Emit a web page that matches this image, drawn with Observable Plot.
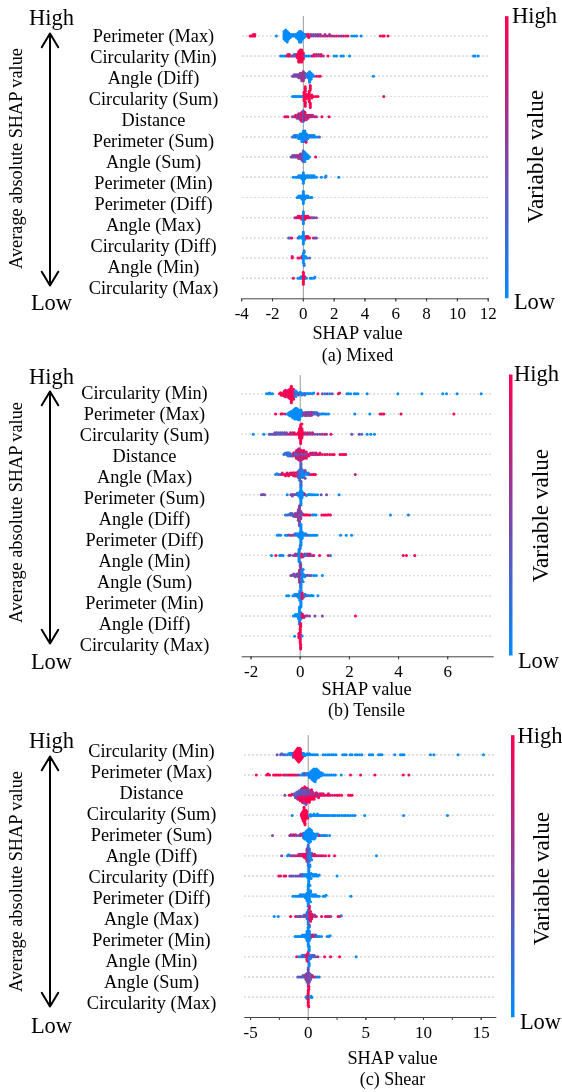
<!DOCTYPE html>
<html>
<head>
<meta charset="utf-8">
<script src="https://cdn.jsdelivr.net/npm/d3@7"></script>
<script src="https://cdn.jsdelivr.net/npm/@observablehq/plot@0.6"></script>
<style>
html,body{margin:0;padding:0;background:#fff}
#root{position:relative;width:562px;height:1092px;overflow:hidden}
.panel{position:absolute;left:0;width:562px}
.panel svg{position:absolute;left:0;top:0}
.soft{filter:blur(0.35px)}
</style>
</head>
<body>
<div id="root"></div>
<script>
// Row names, top to bottom
const mixedNames = ["Perimeter (Max)","Circularity (Min)","Angle (Diff)","Circularity (Sum)","Distance","Perimeter (Sum)","Angle (Sum)","Perimeter (Min)","Perimeter (Diff)","Angle (Max)","Circularity (Diff)","Angle (Min)","Circularity (Max)"];
const tensileNames = ["Circularity (Min)","Perimeter (Max)","Circularity (Sum)","Distance","Angle (Max)","Perimeter (Sum)","Angle (Diff)","Perimeter (Diff)","Angle (Min)","Angle (Sum)","Perimeter (Min)","Angle (Diff)","Circularity (Max)"];
const shearNames = ["Circularity (Min)","Perimeter (Max)","Distance","Circularity (Sum)","Perimeter (Sum)","Angle (Diff)","Circularity (Diff)","Perimeter (Diff)","Angle (Max)","Perimeter (Min)","Angle (Min)","Angle (Sum)","Circularity (Max)"];

// Each row: [SHAP value, how many samples sit there, variable value 0..1]
const mixedValues = [
[[-3.45,1,1],[-3.35,1,1],[-3.25,2,1],[-3.15,2,1],[-1.75,1,0],[-1.25,6,0],[-1.15,8,0],[-1.05,8,0],[-0.95,5,0],[-0.85,3,0],[-0.75,2,0],[-0.65,2,0],[-0.55,2,0],[-0.45,3,0],[-0.35,5,0],[-0.25,8,0],[-0.15,8,0],[-0.05,5,0],[0.05,3,0],[0.15,2,0],[0.25,2,.7],[0.35,3,1],[0.5,2,.6],[0.65,2,.5],[0.8,2,.4],[0.95,2,.7],[1.1,2,.5],[1.25,1,.9],[1.4,2,.6],[1.55,1,.8],[1.7,2,.6],[1.85,1,.8],[2,1,.6],[2.15,1,.9],[2.3,1,.7],[2.45,1,.5],[2.6,1,.9],[2.75,1,.8],[2.9,1,1],[3.15,1,0],[3.3,1,0],[3.45,1,0],[3.75,1,0],[5,1,.9],[5.15,1,1],[5.25,1,1],[5.5,1,1]],
[[-1.47,1,0],[-1.35,1,0],[-1.2,1,0],[-1.1,1,.3],[-1,2,.9],[-.9,2,1],[-.8,1,.5],[-.7,1,.6],[-.6,2,.4],[-.5,2,.3],[-.4,3,1],[-.3,8,1],[-.2,9,1],[-.1,9,1],[0,5,1],[.1,1,0],[.2,1,0],[.35,1,0],[.5,1,0],[.6,1,1],[.7,2,.9],[.85,2,.8],[1,2,.6],[1.15,2,.9],[1.3,1,.6],[1.6,1,1],[2,1,0],[2.15,1,0],[2.45,1,0],[2.6,1,0],[3,1,0],[11.05,1,0],[11.15,1,0],[11.35,1,0]],
[[-.7,1,.5],[-.6,2,.4],[-.5,2,.5],[-.4,2,.45],[-.3,3,.5],[-.2,4,.6],[-.1,6,.5],[0,7,.7],[.1,4,.5],[.2,2,.3],[.3,4,0],[.4,8,0],[.5,5,0],[.6,2,0],[.7,1,0],[.85,1,.9],[1,1,.9],[1.1,1,1],[4.55,1,0]],
[[-.7,1,0],[-.6,1,0],[-.5,1,0],[-.4,1,0],[-.3,1,0],[-.2,1,0],[-.1,1,0],[0,1,0],[.05,6,1],[.12,9,1],[.2,4,1],[.3,2,1],[.38,7,1],[.45,9,1],[.55,3,1],[.65,1,1],[.8,1,1],[.95,1,1],[5.22,1,.85]],
[[-1.2,1,1],[-1.1,1,.9],[-1,1,.8],[-.7,1,.7],[-.6,1,.5],[-.5,2,1],[-.4,3,.4],[-.3,4,1],[-.2,5,.4],[-.1,7,1],[0,8,.3],[.1,6,.95],[.2,4,.4],[.3,3,1],[.4,2,.6],[.5,2,.9],[.6,2,.6],[.75,1,.9],[.85,1,.7],[1.2,1,1],[1.67,1,1]],
[[-.7,1,.3],[-.6,2,0],[-.5,2,.3],[-.4,2,0],[-.3,3,0],[-.2,4,0],[-.1,6,0],[0,8,0],[.1,8,0],[.2,5,.1],[.3,3,0],[.4,2,0],[.5,2,0],[.6,2,.2],[.7,2,0],[.8,1,0],[.95,1,0],[1.05,1,.3],[.18,1,1]],
[[-.8,1,.4],[-.7,2,.4],[-.6,2,.6],[-.5,2,.4],[-.4,2,.8],[-.3,3,.5],[-.2,4,.6],[-.1,5,.5],[0,8,.3],[.1,7,0],[.2,4,0],[.3,3,0],[.4,1,0],[.8,1,1]],
[[-.65,1,0],[-.5,1,0],[-.4,1,0],[-.3,2,0],[-.2,2,0],[-.1,3,0],[0,8,0],[.1,3,0],[.2,2,0],[.3,2,0],[.4,2,0],[.5,2,0],[.6,2,0],[.7,2,0],[.85,1,0],[1.17,1,0],[1.42,1,.1],[1.47,1,0],[2.3,1,0]],
[[-.4,1,0],[-.3,2,0],[-.2,2,0],[-.1,3,0],[0,9,0],[.1,3,0],[.2,2,0],[.3,2,0],[.45,1,0],[.55,1,0]],
[[-.55,1,.6],[-.45,1,.9],[-.35,2,.8],[-.25,2,1],[-.1,3,.9],[0,9,0],[.1,3,1],[.2,2,.9],[.3,2,.9],[.4,1,.9],[.5,1,.7],[.6,1,.5],[.7,1,.5],[.85,1,.5]],
[[-.95,1,.3],[-.85,1,.3],[-.75,1,1],[-.35,1,.3],[-.25,2,0],[-.1,2,0],[0,9,0],[.1,3,0],[.2,2,1],[.3,2,1],[.4,1,1],[.65,1,.9],[.75,1,.3],[.85,1,.5]],
[[-.72,2,1],[-.35,1,1],[-.25,1,.8],[-.1,2,.9],[0,7,0],[.05,4,.1],[.15,2,0],[.25,1,0],[.4,1,.3]],
[[-.65,1,1],[-.35,1,0],[-.25,1,0],[-.15,2,0],[0,9,1],[.1,2,1],[.2,1,0],[.45,1,0],[.55,1,0],[.7,1,0],[.75,1,0]]
];
const tensileValues = [
[[-1.37,1,0],[-1.3,1,0],[-1.25,1,0],[-1.2,1,0],[-1.13,1,0],[-.84,1,1],[-.8,1,1],[-.76,2,1],[-.7,2,1],[-.65,3,.9],[-.6,3,1],[-.55,3,1],[-.5,4,.8],[-.45,5,1],[-.4,6,1],[-.36,6,1],[-.32,5,1],[-.27,4,1],[-.22,3,.4],[-.18,2,0],[-.13,2,0],[-.07,2,.5],[0,2,0],[.06,2,0],[.12,1,0],[.18,2,.3],[.24,1,0],[.3,1,0],[.36,1,0],[.42,1,0],[.5,1,0],[.55,1,0],[.72,1,1],[.9,1,.5],[1,1,0],[1.1,1,.5],[1.2,1,0],[1.3,1,.4],[1.55,1,1],[1.6,1,.9],[1.9,1,0],[1.97,1,0],[2.05,1,0],[2.2,1,0],[2.27,1,0],[2.35,1,0],[2.72,1,0],[3.97,1,0],[4.95,1,0],[5.8,1,0],[5.95,1,0],[6.38,1,0],[7.36,1,0]],
[[-1,1,1],[-.78,1,1],[-.72,1,1],[-.62,1,.7],[-.52,1,0],[-.47,2,0],[-.42,3,0],[-.37,3,0],[-.32,4,0],[-.27,5,0],[-.22,6,0],[-.17,6,0],[-.12,6,0],[-.07,6,0],[-.02,5,0],[.03,4,0],[.08,3,0],[.13,2,.5],[.2,3,.5],[.27,3,.7],[.33,3,.4],[.4,3,.5],[.46,3,.7],[.53,2,.4],[.6,2,.3],[.67,2,.1],[.73,2,.5],[.8,1,0],[.87,1,0],[.93,1,0],[1,1,0],[1.07,1,0],[1.15,1,0],[2.22,1,0],[2.83,1,0],[3.25,1,.9],[3.32,1,1],[3.4,1,.9],[4.1,1,1],[6.25,1,1]],
[[-1.91,1,0],[-1.48,1,0],[-1.26,1,.4],[-1.18,1,.3],[-1.1,1,.5],[-1.03,2,.4],[-.96,2,.4],[-.88,2,.3],[-.8,2,.5],[-.72,2,.3],[-.64,2,.4],[-.56,2,.5],[-.48,1,.7],[-.4,2,.8],[-.32,2,.6],[-.24,2,.9],[-.16,1,1],[-.08,2,1],[-.03,6,1],[.02,9,1],[.07,7,1],[.12,2,1],[.2,2,.6],[.3,2,.9],[.4,2,.5],[.5,2,.8],[.6,1,.3],[.7,1,.6],[.8,1,.3],[.9,1,.8],[1,1,.7],[1.07,1,.6],[1.25,1,1],[2.1,1,.45],[2.4,1,.4],[2.5,1,.3],[2.72,1,0],[2.87,1,0],[3.02,1,0]],
[[-.66,1,.1],[-.62,1,.2],[-.56,2,.1],[-.5,3,.3],[-.44,3,.1],[-.38,2,.4],[-.32,2,.2],[-.26,3,.9],[-.2,3,.3],[-.15,4,1],[-.1,5,.4],[-.05,6,1],[0,6,.5],[.05,5,1],[.1,4,.4],[.15,4,1],[.2,3,.5],[.25,3,1],[.3,2,.6],[.36,2,1],[.42,2,.7],[.5,2,.9],[.57,2,.6],[.65,2,.9],[.72,1,.8],[.8,2,.9],[.9,1,.9],[1,1,1],[1.1,1,.8],[1.2,1,1],[1.3,1,1],[1.38,1,1],[1.62,1,1],[1.7,1,1],[1.78,1,1],[1.85,1,1]],
[[-1,1,0],[-.95,1,0],[-.88,1,.2],[-.8,1,.5],[-.73,2,.7],[-.66,1,1],[-.6,2,1],[-.53,2,.9],[-.47,2,1],[-.4,2,.8],[-.33,2,1],[-.27,3,.9],[-.2,3,1],[-.14,3,.7],[-.08,5,.5],[-.02,8,.2],[.03,9,.3],[.09,6,.1],[.15,4,0],[.2,3,.5],[.26,2,0],[.33,2,0],[.4,1,.8],[.48,1,1],[.55,1,1],[.62,1,1],[2.24,1,.7]],
[[-1.58,1,.45],[-1.52,1,.4],[-1.45,1,.5],[-.53,1,0],[-.38,1,.5],[-.32,2,.45],[-.26,1,.5],[-.2,1,.4],[-.12,2,.3],[-.06,3,0],[0,5,0],[.03,9,0],[.07,5,0],[.14,2,0],[.2,1,1],[.25,1,0],[.32,1,0],[.38,1,0],[.45,1,0],[.52,1,0],[.6,1,0],[.7,1,0],[.85,1,.4],[1.07,1,.5],[1.58,1,0]],
[[-.6,1,.2],[-.53,1,.1],[-.47,1,.3],[-.4,2,.2],[-.33,2,.3],[-.27,2,.4],[-.2,3,.5],[-.13,3,.6],[-.08,6,.5],[-.03,10,.5],[.02,4,.6],[.08,2,.3],[.14,1,1],[.2,1,1],[.26,1,1],[.33,1,.9],[.4,1,1],[.5,1,0],[.56,1,0],[.64,1,0],[.88,1,1],[.96,1,1],[1.03,1,1],[1.1,1,.9],[1.16,1,1],[1.23,1,1],[3.67,1,0],[4.4,1,0]],
[[-.93,1,0],[-.87,1,0],[-.8,1,0],[-.6,1,0],[-.53,1,0],[-.47,1,.5],[-.4,1,.6],[-.33,1,.5],[-.27,1,.6],[-.2,2,.3],[-.13,2,0],[-.06,3,0],[0,5,0],[.03,10,0],[.08,5,0],[.15,2,0],[.22,2,0],[.3,1,.4],[.37,1,0],[.44,1,0],[.52,1,0],[.6,1,0],[.67,1,0],[1.64,1,0],[1.87,1,0],[2.09,1,0]],
[[-1.17,1,0],[-.99,1,1],[-.83,1,0],[-.77,1,.1],[-.7,1,0],[-.46,1,.5],[-.4,1,.5],[-.28,1,.5],[-.2,2,.6],[-.12,2,.6],[-.05,9,0],[0,6,.1],[.06,3,1],[.12,2,.7],[.18,2,.3],[.25,2,.2],[.32,2,.7],[.4,2,.9],[.48,1,.3],[.55,1,.8],[.79,1,1],[1.14,1,1],[1.23,1,.2],[4.19,1,1],[4.32,1,1],[4.66,1,1]],
[[-.38,1,.5],[-.32,1,.4],[-.26,2,.5],[-.2,2,.4],[-.14,2,.5],[-.08,3,.4],[-.03,7,.6],[.02,10,.6],[.07,7,.1],[.12,4,0],[.18,2,0],[.24,1,.2],[.3,1,.5],[.38,1,.5],[.45,1,.2],[.55,1,0],[.65,1,0],[.9,1,0]],
[[-.55,1,0],[-.47,1,0],[-.3,1,0],[-.22,2,0],[-.15,2,.1],[-.08,3,0],[-.02,7,0],[.03,10,0],[.08,5,.9],[.14,2,.7],[.2,2,0],[.27,1,.5],[.33,1,0],[.4,1,0],[.46,1,0],[.52,1,0],[.72,1,0]],
[[-.28,1,0],[-.2,2,0],[-.13,2,0],[-.07,4,0],[-.03,9,0],[.03,5,0],[.09,3,1],[.15,2,.9],[.22,1,.7],[.28,1,.5],[.38,1,.6],[.6,1,.5],[.9,1,.45],[2.25,1,1]],
[[-.23,1,0],[-.05,4,1],[0,8,1],[.02,9,1],[.08,1,0]]
];
const shearValues = [
[[-2.7,1,.5],[-2.4,1,.4],[-2.3,1,.2],[-2.15,1,.3],[-2,1,.3],[-1.8,1,0],[-1.7,1,0],[-1.55,2,0],[-1.4,2,0],[-1.3,2,.5],[-1.22,2,1],[-1.14,3,1],[-1.06,4,1],[-.98,5,1],[-.9,6,1],[-.82,6,1],[-.74,6,1],[-.66,5,1],[-.58,3,1],[-.5,2,1],[-.4,2,0],[-.3,1,0],[-.2,1,0],[-.1,1,0],[0,1,0],[.1,1,0],[.2,1,0],[.35,1,0],[.5,1,0],[.65,1,0],[.8,1,0],[1.3,1,0],[1.5,1,0],[1.7,1,0],[1.85,1,0],[2.05,1,0],[2.2,1,0],[2.4,1,0],[3,1,0],[3.15,1,0],[3.3,1,0],[3.65,1,0],[3.8,1,0],[4.1,1,0],[4.25,1,0],[4.45,1,0],[4.65,1,0],[5.3,1,0],[5.45,1,0],[5.6,1,0],[6.1,1,0],[6.25,1,0],[6.4,1,0],[7.5,1,0],[8,1,0],[8.15,1,0],[8.3,1,0],[10.6,1,0],[10.9,1,0],[13,1,0],[15.2,1,0]],
[[-4.5,1,1],[-3.6,1,1],[-3.5,1,1],[-3.35,1,1],[-3,1,1],[-2.85,1,1],[-2.7,1,1],[-2.55,1,1],[-2.4,1,1],[-2.15,1,1],[-2,1,.8],[-1.85,1,.6],[-1.7,1,1],[-1.55,1,1],[-1.4,1,.9],[-1.25,1,1],[-1.1,1,.7],[-.95,1,.8],[-.8,1,.5],[-.6,1,0],[-.45,2,0],[-.3,2,.6],[-.15,2,0],[0,2,0],[.1,2,.1],[.2,3,0],[.3,4,0],[.4,5,0],[.5,6,0],[.6,6,0],[.7,5,0],[.8,4,0],[.9,3,0],[1,2,0],[1.1,2,0],[1.25,2,0],[1.4,1,0],[1.55,1,0],[1.7,1,0],[1.85,1,0],[2,1,0],[2.2,1,0],[2.35,1,0],[2.86,1,0],[3.67,1,1],[4.54,1,1],[5.78,1,1],[8.24,1,1],[8.73,1,1]],
[[-2.02,1,.5],[-1.65,1,1],[-1.5,1,.9],[-1.4,1,1],[-1.2,2,.3],[-1.1,2,.4],[-1,3,.3],[-.9,3,.8],[-.8,4,.3],[-.7,4,.9],[-.6,5,.4],[-.5,6,1],[-.4,6,.4],[-.3,7,.9],[-.2,7,.4],[-.1,6,1],[0,5,.5],[.1,5,1],[.2,4,.6],[.3,4,1],[.4,3,.6],[.5,3,1],[.6,2,.7],[.7,2,1],[.8,2,.7],[.9,2,.9],[1,2,.7],[1.15,2,1],[1.3,2,.8],[1.45,1,.9],[1.6,1,.8],[1.75,2,.9],[1.9,1,1],[2.1,1,.8],[2.3,1,.9],[2.5,1,1],[2.7,1,1],[2.9,1,1],[3.5,1,1],[3.65,1,1],[3.8,1,1]],
[[-1.39,1,0],[-.6,2,1],[-.52,3,1],[-.44,5,1],[-.36,7,1],[-.28,7,1],[-.2,4,1],[-.12,3,1],[-.05,2,1],[.1,1,0],[.2,2,0],[.35,1,0],[.5,2,0],[.65,1,0],[.8,2,0],[.95,1,0],[1.1,1,0],[1.25,1,0],[1.4,1,0],[1.55,1,0],[1.7,1,0],[1.85,1,0],[2.05,1,0],[2.2,1,0],[2.35,1,0],[2.55,1,0],[2.7,1,0],[2.9,1,0],[3.1,1,0],[3.25,1,0],[3.45,1,0],[3.65,1,0],[3.85,1,0],[4.05,1,0],[4.9,1,0],[8.27,1,0],[12.08,1,0]],
[[-3.1,1,.5],[-1.6,1,.6],[-1.5,1,.8],[-1.4,1,.5],[-1.3,1,.9],[-1.2,1,.6],[-1.1,1,.8],[-1,1,.5],[-.8,1,.5],[-.65,2,.6],[-.5,2,.7],[-.4,3,.2],[-.3,3,0],[-.2,4,0],[-.1,5,0],[0,6,0],[.1,7,0],[.2,6,0],[.3,4,0],[.4,3,0],[.5,3,0],[.6,2,0],[.7,2,0],[.85,2,0],[1,1,1],[1.15,1,0],[1.3,1,0],[1.45,1,.3],[1.6,1,0],[1.85,1,0]],
[[-2.3,1,.5],[-1.8,1,0],[-1.7,1,0],[-1.55,1,.3],[-1.4,1,.6],[-1.25,1,.7],[-1.1,1,.6],[-.95,1,.7],[-.8,2,.9],[-.65,2,.7],[-.5,2,.8],[-.35,3,1],[-.2,4,.9],[-.1,6,.6],[0,10,.2],[.1,7,.2],[.2,4,0],[.3,2,0],[.4,2,.7],[.55,2,.9],[.7,1,.8],[.85,1,.9],[1,1,.7],[1.15,1,.9],[1.3,1,.8],[1.5,1,1],[1.8,1,1],[2.28,1,1],[5.92,1,0]],
[[-2.55,1,.9],[-2.4,1,.9],[-2.1,1,1],[-1.95,1,.9],[-1.6,1,.4],[-1.45,1,.5],[-1.3,1,.3],[-1.1,1,.5],[-.95,1,.3],[-.8,1,.5],[-.65,2,.5],[-.5,2,.3],[-.35,2,0],[-.2,2,0],[-.05,3,0],[.05,10,0],[.15,6,0],[.25,2,0],[.4,2,0],[.55,2,0],[.7,2,0],[.85,1,0],[.95,1,0],[2.5,1,0]],
[[-1.33,1,0],[-1.15,1,0],[-1,1,0],[-.85,1,0],[-.7,2,.1],[-.55,2,0],[-.4,2,0],[-.25,3,0],[-.1,6,0],[0,10,0],[.1,6,0],[.2,3,0],[.35,2,0],[.5,2,0],[.65,2,0],[.8,1,0],[.95,1,0],[1.3,1,0],[1.45,1,0],[1.55,1,0],[3.7,1,0]],
[[-2.95,1,0],[-2.6,1,0],[-1.53,1,1],[-1.1,1,.9],[-.95,1,.5],[-.8,1,.4],[-.65,1,.7],[-.5,1,.3],[-.35,2,.3],[-.2,2,.6],[-.1,4,.2],[0,8,.1],[.1,9,.8],[.2,5,.9],[.3,3,1],[.4,2,.8],[.55,2,.5],[.7,1,.9],[1.16,1,1],[1.5,1,1],[1.65,1,.8],[1.8,1,.9],[1.95,1,.6],[2.6,1,1],[2.75,1,.8],[2.87,1,.2]],
[[-1.13,1,0],[-.95,1,0],[-.8,1,0],[-.65,1,0],[-.5,2,0],[-.35,2,0],[-.2,3,0],[-.1,5,0],[0,10,0],[.1,6,0],[.2,3,0],[.35,2,.9],[.5,2,.7],[.65,2,.4],[.8,1,0],[.95,1,0],[1.15,1,0],[1.65,1,0],[1.8,1,0],[1.9,1,0]],
[[-1,1,1],[-.8,1,0],[-.65,1,0],[-.5,2,.3],[-.35,2,.2],[-.2,2,.7],[-.1,4,.9],[0,5,.8],[.08,9,0],[.2,3,.1],[.35,2,.2],[.5,2,.3],[.65,1,.5],[.85,1,.6],[1.42,1,1],[1.94,1,1],[2.72,1,1],[4.16,1,0]],
[[-.9,1,.3],[-.75,1,.4],[-.6,1,.3],[-.45,2,.3],[-.3,2,.5],[-.2,3,.6],[-.1,5,.5],[0,10,.4],[.1,5,.6],[.2,3,.3],[.35,2,.7],[.5,1,.8],[.65,1,.5],[.8,1,0],[.95,1,.1]],
[[-.18,1,0],[-.1,2,0],[0,10,1],[.05,4,1],[.15,1,0],[.25,1,0],[.32,1,0]]
];

const mixedTicks = [-4,-2,0,2,4,6,8,10,12];
const tensileTicks = [-2,0,2,4,6];
const shearTicks = [-5,0,5,10,15];
const shearMinorTicks = [-5,-2.5,0,2.5,5,7.5,10,12.5,15];

const mixedCaption = "(a) Mixed";
const tensileCaption = "(b) Tensile";
const shearCaption = "(c) Shear";

// Layout (page pixels) kept apart from the data
const layouts = [
 {names:mixedNames, values:mixedValues, ticks:mixedTicks, minor:mixedTicks, caption:mixedCaption,
  top:0,height:365,x0:242.3,x1:487.7,domain:[-3.93,12],rowTop:35.4,ruleTop:16,axisY:298.3,
  label0:35,label1:289.3,labelX:153,highY:17.7,lowY:302.7,arrowTop:33,arrowBottom:285,sideTitleY:158,
  barX:504.5,barTop:15.7,barBottom:297.7,hiX:534,hiY:15,loX:534,loY:301,varX:535,varY:156,titleX:357,titleY:333,capY:355},
 {names:tensileNames, values:tensileValues, ticks:tensileTicks, minor:tensileTicks, caption:tensileCaption,
  top:365,height:360,x0:241.7,x1:492.7,domain:[-2.36,7.85],rowTop:393.3,ruleTop:375,axisY:656.3,
  label0:391,label1:646,labelX:144,highY:376,lowY:661,arrowTop:390,arrowBottom:643,sideTitleY:512,
  barX:508.5,barTop:374,barBottom:655,hiX:536,hiY:373,loX:538,loY:660,varX:540,varY:515,titleX:366,titleY:689,capY:710},
 {names:shearNames, values:shearValues, ticks:shearTicks, minor:shearMinorTicks, caption:shearCaption,
  top:725,height:367,x0:244.3,x1:495.3,domain:[-5.5,16.27],rowTop:754.3,ruleTop:735,axisY:1017,
  label0:749.3,label1:1004.3,labelX:151,highY:740,lowY:1025.7,arrowTop:755,arrowBottom:1006,sideTitleY:881,
  barX:510.5,barTop:734.7,barBottom:1016.7,hiX:539.5,hiY:735.7,loX:540,loY:1021,varX:541,varY:878,titleX:392,titleY:1057.7,capY:1079}
];

const rowPitch = 20.2;
const serif = "'Liberation Serif','Times New Roman',serif";
const colorOpts = {type:"linear",domain:[0,1],range:["#008bfb","#ff0051"],interpolate:"rgb"};
const baseStyle = {background:"transparent",fontFamily:serif,overflow:"visible"};
const rows = d3.range(13);

function swarmLayer(p){
  const data = p.values.flatMap((clusters,row)=>clusters.flatMap(([x,n,c])=>Array.from({length:n},()=>({row,x,c}))));
  const rowBandTop = p.rowTop - rowPitch/2 - p.top;
  const rowBandBottom = rowBandTop + 13*rowPitch;
  return Plot.plot({
    width:562,height:p.height,style:baseStyle,
    marginLeft:p.x0,marginRight:562-p.x1,marginTop:rowBandTop,marginBottom:p.height-rowBandBottom,
    x:{domain:p.domain,axis:null},
    fy:{domain:rows,padding:0,round:false,axis:null},
    color:colorOpts,
    marks:[
      Plot.gridFy(rows,{stroke:"#dcdcdc",strokeOpacity:1,strokeWidth:0.7,strokeDasharray:"1,3"}),
      Plot.dot(data,Plot.dodgeY({anchor:"middle",x:"x",fy:"row",r:1.5,padding:-1.5,fill:"c"}))
    ]
  });
}

function axesLayer(p){
  const note = (str,X,Y,size,rotate=0)=>Plot.text([str],{text:d=>d,frameAnchor:"top-left",dx:X-p.x0,dy:Y-p.ruleTop,
    fontSize:size,textAnchor:"middle",lineAnchor:"middle",rotate,fill:"black"});
  return Plot.plot({
    width:562,height:p.height,style:baseStyle,
    marginLeft:p.x0,marginRight:562-p.x1,marginTop:p.ruleTop-p.top,marginBottom:p.height-(p.axisY-p.top),
    x:{domain:p.domain},
    y:{type:"point",padding:0,domain:rows,range:[p.label0-p.top,p.label1-p.top],axis:null},
    marks:[
      Plot.ruleX([0],{stroke:"#999",strokeWidth:1}),
      Plot.frame({anchor:"bottom",stroke:"#444",strokeWidth:1}),
      Plot.axisX(p.minor,{tickSize:3,tickFormat:()=>"",label:null,stroke:"#444"}),
      Plot.axisX(p.ticks,{tickSize:3,tickPadding:5,tickFormat:d=>String(d),label:null,fontSize:17,fill:"black",stroke:"#444"}),
      Plot.text(rows,{y:d=>d,text:d=>p.names[d],frameAnchor:"left",dx:p.labelX-p.x0,textAnchor:"middle",lineAnchor:"middle",fontSize:18.3,fill:"black"}),
      note("High",51,p.highY,22.5),
      note("Low",51,p.lowY,22.5),
      note("Average absolute SHAP value",15.5,p.sideTitleY,18.3,-90),
      note("High",p.hiX,p.hiY,22.5),
      note("Low",p.loX,p.loY,22.5),
      note("Variable value",p.varX,p.varY,23.2,-90),
      note("SHAP value",p.titleX,p.titleY,18.3),
      note(p.caption,p.titleX,p.capY,18)
    ]
  });
}

function arrowLayer(p){
  const arrow = end=>Plot.arrow([end],{x1:()=>0,x2:()=>0,y1:()=>"Mid",y2:d=>d,stroke:"black",strokeWidth:2,headLength:12,headAngle:62});
  return Plot.plot({
    width:562,height:p.height,style:baseStyle,
    x:{domain:[0,1],range:[49.5,49.5],axis:null},
    y:{type:"point",padding:0,domain:["High","Mid","Low"],range:[p.arrowTop-p.top,p.arrowBottom-p.top],axis:null},
    marks:[arrow("High"),arrow("Low")]
  });
}

function barLayer(p){
  return Plot.plot({
    width:562,height:p.height,style:baseStyle,
    x:{domain:[0,1],range:[p.barX,p.barX+3.5],axis:null},
    y:{domain:[0,1],range:[p.barBottom-p.top,p.barTop-p.top],axis:null},
    color:colorOpts,
    marks:[
      Plot.raster({x1:0,x2:1,y1:0,y2:1,width:1,height:141,fill:(x,y)=>y,imageRendering:"auto"})
    ]
  });
}

const root = document.getElementById("root");
for (const p of layouts){
  const div = document.createElement("div");
  div.className = "panel";
  div.style.top = p.top+"px";
  div.style.height = p.height+"px";
  const layers = [axesLayer(p),arrowLayer(p),barLayer(p),swarmLayer(p)];
  layers[0].classList.add("soft");
  layers[3].classList.add("soft");
  layers.forEach(el=>div.appendChild(el));
  root.appendChild(div);
}
</script>
</body>
</html>
